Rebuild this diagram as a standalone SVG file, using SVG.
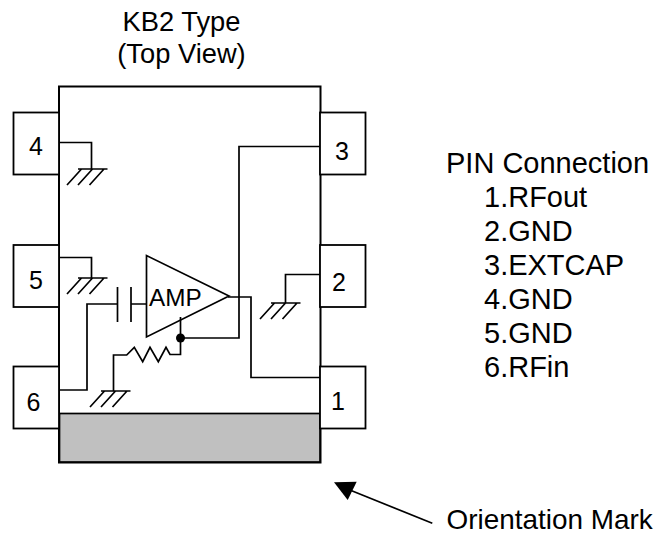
<svg xmlns="http://www.w3.org/2000/svg" width="655" height="535" viewBox="0 0 655 535">
<style>
text{font-family:"Liberation Sans",Arial,sans-serif;font-size:25px;fill:#000}
.t{text-anchor:middle}
.h{font-size:27.3px}
.l{font-size:29px}
.b{fill:#fff;stroke:#000;stroke-width:1.8}
.w{fill:none;stroke:#000;stroke-width:1.7;stroke-linejoin:miter}
</style>
<defs>
<g id="gnd" class="w"><path d="M0 0H29.5M3.5 0L-11 16M14.5 0L0 16M26 0L11.5 16"/></g>
</defs>
<rect width="655" height="535" fill="#fff"/>
<g id="title"><text class="t h" x="181.5" y="31">KB2 Type</text><text class="t h" x="181.5" y="63">(Top View)</text></g>
<g id="body"><rect x="59" y="86.5" width="261.5" height="376" fill="#fff" stroke="#000" stroke-width="2"/>
<rect x="59.5" y="413.5" width="260.5" height="48.5" fill="#c0c0c0" stroke="#000" stroke-width="1.7"/></g>
<g id="pin4"><rect class="b" x="13.5" y="112.5" width="45.5" height="62"/><text class="t" x="36" y="155">4</text></g>
<g id="pin5"><rect class="b" x="13.5" y="245" width="45.5" height="62"/><text class="t" x="36" y="289">5</text></g>
<g id="pin6"><rect class="b" x="13.5" y="366.5" width="45.5" height="62"/><text class="t" x="33.5" y="411">6</text></g>
<g id="pin3"><rect class="b" x="320" y="112.5" width="45.5" height="62"/><text class="t" x="342" y="160">3</text></g>
<g id="pin2"><rect class="b" x="320" y="245" width="45.5" height="62"/><text class="t" x="339" y="290.5">2</text></g>
<g id="pin1"><rect class="b" x="320" y="366.5" width="45.5" height="62"/><text class="t" x="338" y="410">1</text></g>
<g id="connectors">
<path class="w" d="M60 142.5H91.5V169"/>
<use href="#gnd" x="78" y="169"/>
<path class="w" d="M60 257.5H91.5V278"/>
<use href="#gnd" x="78" y="278"/>
<path class="w" d="M60 390H87V304H117.5M117.5 287V322M131 287V322M131 304H146.5"/>
<path class="w" d="M180.5 317V354.5H170L166 347.3L158.3 361.7L150 347.3L142.7 361.7L134.3 347.3L126.7 355H113.5V391"/>
<use href="#gnd" x="101" y="391"/>
<path class="w" d="M180.5 338H239V146.5H320"/>
<path class="w" d="M228 297H251V377.5H320"/>
<path class="w" d="M320 274.5H285.5V303"/>
<use href="#gnd" x="271" y="303"/>
<circle cx="180.5" cy="338" r="4.5" fill="#000"/>
<path d="M334 482.3L356.7 481.7L347.7 500Z" fill="#000"/>
<path class="w" d="M351.7 490.7L432.3 523.3"/>
</g>
<g id="amp"><path class="w" d="M146.5 255.5V337L229 296Z"/><text x="149" y="306" style="font-size:24.3px">AMP</text></g>
<g id="legend"><text class="l" x="446" y="172.7">PIN Connection</text>
<text class="l" x="484" y="206.7">1.RFout</text><text class="l" x="484" y="241">2.GND</text><text class="l" x="484" y="275">3.EXTCAP</text><text class="l" x="484" y="309">4.GND</text><text class="l" x="484" y="342.5">5.GND</text><text class="l" x="484" y="376.5">6.RFin</text></g>
<g id="orientation"><text x="446.5" y="529" style="font-size:27.9px">Orientation Mark</text></g>
</svg>
